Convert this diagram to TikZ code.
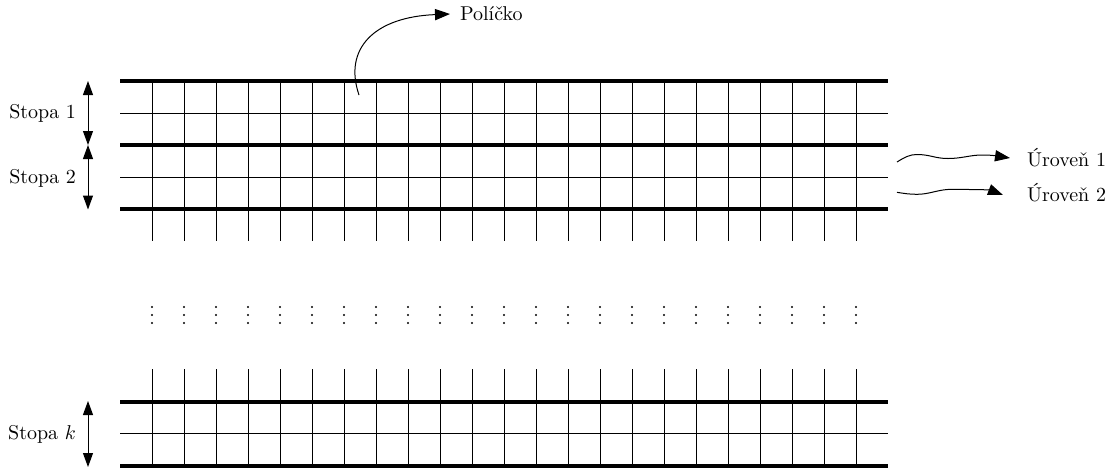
\documentclass[tikz,border=0pt]{standalone}
\usetikzlibrary{arrows.meta}
\begin{document}
\begin{tikzpicture}[x=0.5pt,y=-0.5pt,
  thickline/.style={line width=2pt},
  thinline/.style={line width=0.4pt},
  vline/.style={line width=0.45pt},
  tip/.style={-{Triangle[length=7.5pt,width=5.6pt]}},
  arr/.style={line width=0.5pt,tip},
  darr/.style={line width=0.5pt,{Triangle[length=7pt,width=5pt]}-{Triangle[length=7pt,width=5pt]}}]
\useasboundingbox (0,0) rectangle (1109,468);

% ---- top block of tracks
\foreach \i in {1,...,23} \draw[vline] ({120+32*\i},81) -- ({120+32*\i},241);
\foreach \y in {113,177} \draw[thinline] (120,\y) -- (888,\y);
\foreach \y in {81,145,209} \draw[thickline] (120,\y) -- (888,\y);

% ---- dots
\foreach \i in {1,...,23} {
  \foreach \y in {307,315,323} \fill ({120+32*\i},\y) circle (0.55pt);
}

% ---- bottom block
\foreach \i in {1,...,23} \draw[vline] ({120+32*\i},369) -- ({120+32*\i},465.5);
\draw[thinline] (120,433.5) -- (888,433.5);
\foreach \y in {401.5,465.5} \draw[thickline] (120,\y) -- (888,\y);

% ---- track labels
\coordinate (t1) at (88,81);
\coordinate (t2) at (88,145);
\coordinate (t3) at (88,209.5);
\coordinate (tk1) at (88,401);
\coordinate (tk2) at (88,467);
\draw[darr] (t1) -- (t2);
\draw[darr] (t2) -- (t3);
\draw[darr] (tk1) -- (tk2);
\node[anchor=east] (s1) at (83,113) {Stopa 1};
\node[anchor=east] (s2) at (83,178) {Stopa 2};
\node[anchor=east] (sk) at (83,434) {Stopa $k$};

% ---- cell label
\node[anchor=west] (pol) at (453,14) {Políčko};
\coordinate (cell) at (359,95);
\draw[arr] (cell) .. controls (343,48) and (375,17) .. ([xshift=-1.5pt]pol.west);

% ---- level labels
\node[anchor=west] (u1) at (1020,158) {Úroveň 1};
\node[anchor=west] (u2) at (1020,193) {Úroveň 2};
\coordinate (w1) at (897,162);
\coordinate (w2) at (897,192.3);
\draw[arr] (w1) .. controls (905,157) and (910,154.5) .. (917,154.5)
  .. controls (930,154.5) and (935,158.5) .. (948,158.5)
  .. controls (962,158.5) and (970,155) .. (982,155)
  .. controls (994,155) and (1000,156.5) .. ([xshift=-5pt]u1.west);
\draw[arr] (w2) .. controls (904,193.5) and (910,194.3) .. (917,194.3)
  .. controls (930,194.3) and (938,189.3) .. (952,189.3)
  .. controls (966,189.3) and (990,190) .. ([xshift=-8.5pt,yshift=-1pt]u2.west);
\end{tikzpicture}
\end{document}
